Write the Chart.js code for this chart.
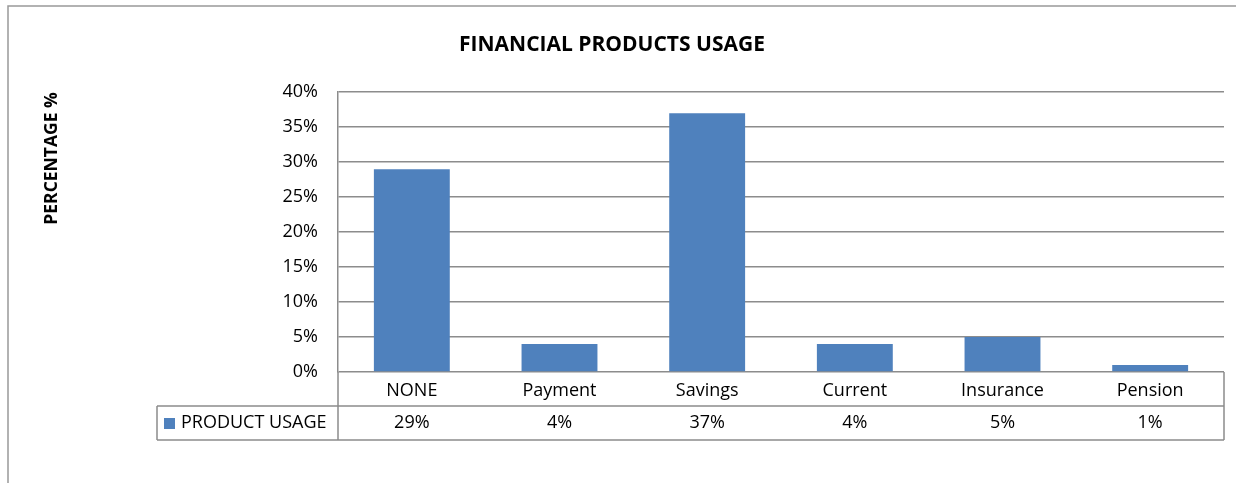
<!DOCTYPE html>
<html>
<head>
<meta charset="utf-8">
<title>Financial products usage</title>
<script src="https://cdn.jsdelivr.net/npm/chart.js@4/dist/chart.umd.min.js"></script>
<style>
    body { margin: 0; background: #ffffff; }
    #wrap { width: 1236px; height: 483px; }
</style>
</head>
<body>
<div id="wrap"><canvas id="usageChart" width="1236" height="483"></canvas></div>
<script>
// Chart data
const categories = ['NONE', 'Payment', 'Savings', 'Current', 'Insurance', 'Pension'];
const usageValues = [29, 4, 37, 4, 5, 1];
const seriesName = 'PRODUCT USAGE';
const yTickMin = 0;
const yTickMax = 40;
const yTickStep = 5;

const BAR_BLUE = '#4f81bd';
const LINE_GRAY = '#8c8c8c';
const FONT = '"Open Sans", Lato, sans-serif';
const TEXT_SIZE = 18;

// Outer frame of the pasted chart object (left + top edges only)
const framePlugin = {
    id: 'frame',
    beforeDraw(chart) {
        const ctx = chart.ctx;
        ctx.save();
        ctx.strokeStyle = '#999999';
        ctx.lineWidth = 1.5;
        ctx.beginPath();
        ctx.moveTo(8, chart.height);
        ctx.lineTo(8, 6);
        ctx.lineTo(chart.width, 6);
        ctx.stroke();
        ctx.restore();
    }
};

// Excel style data table under the x axis
const dataTablePlugin = {
    id: 'dataTable',
    afterDraw(chart) {
        const ctx = chart.ctx;
        const area = chart.chartArea;
        const xScale = chart.scales.x;
        const rowH = 34;
        const row1 = area.bottom + rowH;
        const row2 = area.bottom + rowH * 2;
        const legendLeft = area.left - 181;

        ctx.save();
        ctx.strokeStyle = LINE_GRAY;
        ctx.lineWidth = 1.5;
        ctx.beginPath();
        // horizontal rules
        ctx.moveTo(legendLeft, row1);
        ctx.lineTo(area.right, row1);
        ctx.moveTo(legendLeft, row2);
        ctx.lineTo(area.right, row2);
        // verticals
        ctx.moveTo(legendLeft, row1);
        ctx.lineTo(legendLeft, row2);
        ctx.moveTo(area.left, area.bottom);
        ctx.lineTo(area.left, row2);
        ctx.moveTo(area.right, area.bottom);
        ctx.lineTo(area.right, row2);
        ctx.stroke();

        const midY = (row1 + row2) / 2;
        // legend key
        ctx.fillStyle = BAR_BLUE;
        ctx.fillRect(legendLeft + 7, midY - 5, 11, 11);

        ctx.fillStyle = '#000000';
        ctx.font = TEXT_SIZE + 'px ' + FONT;
        ctx.textBaseline = 'middle';
        ctx.textAlign = 'left';
        ctx.fillText(seriesName, legendLeft + 24, midY);

        ctx.textAlign = 'center';
        usageValues.forEach((v, i) => {
            ctx.fillText(v + '%', xScale.getPixelForValue(i), midY);
        });
        ctx.restore();
    }
};

const ctx = document.getElementById('usageChart').getContext('2d');

new Chart(ctx, {
    type: 'bar',
    data: {
        labels: categories,
        datasets: [{
            label: seriesName,
            data: usageValues,
            backgroundColor: BAR_BLUE,
            borderWidth: 0,
            barPercentage: 1,
            categoryPercentage: 0.514
        }]
    },
    options: {
        responsive: false,
        animation: false,
        layout: {
            padding: { left: 0, right: 12, top: 0, bottom: 0 }
        },
        plugins: {
            legend: { display: false },
            tooltip: { enabled: false },
            title: {
                display: true,
                text: 'FINANCIAL PRODUCTS USAGE',
                color: '#000000',
                font: { family: FONT, size: 21, weight: 'bold' },
                padding: { top: 32, bottom: 35 }
            }
        },
        scales: {
            y: {
                min: yTickMin,
                max: yTickMax,
                ticks: {
                    stepSize: yTickStep,
                    padding: 20,
                    color: '#000000',
                    font: { family: FONT, size: TEXT_SIZE },
                    callback: function(value) {
                        return value + '%';
                    }
                },
                grid: {
                    color: LINE_GRAY,
                    lineWidth: 1.5,
                    drawTicks: false
                },
                border: {
                    display: true,
                    color: LINE_GRAY,
                    width: 1.5
                },
                title: {
                    display: true,
                    text: 'PERCENTAGE %',
                    align: 'end',
                    color: '#000000',
                    font: { family: FONT, size: 17.5, weight: 'bold' },
                    padding: { top: 42, bottom: 0 }
                },
                afterFit: function(scale) {
                    scale.width = 338;
                }
            },
            x: {
                ticks: {
                    padding: 8,
                    color: '#000000',
                    font: { family: FONT, size: TEXT_SIZE }
                },
                grid: {
                    display: false,
                    drawTicks: false
                },
                border: { display: false },
                afterFit: function(scale) {
                    scale.height = 111;
                }
            }
        }
    },
    plugins: [framePlugin, dataTablePlugin]
});
</script>
</body>
</html>
